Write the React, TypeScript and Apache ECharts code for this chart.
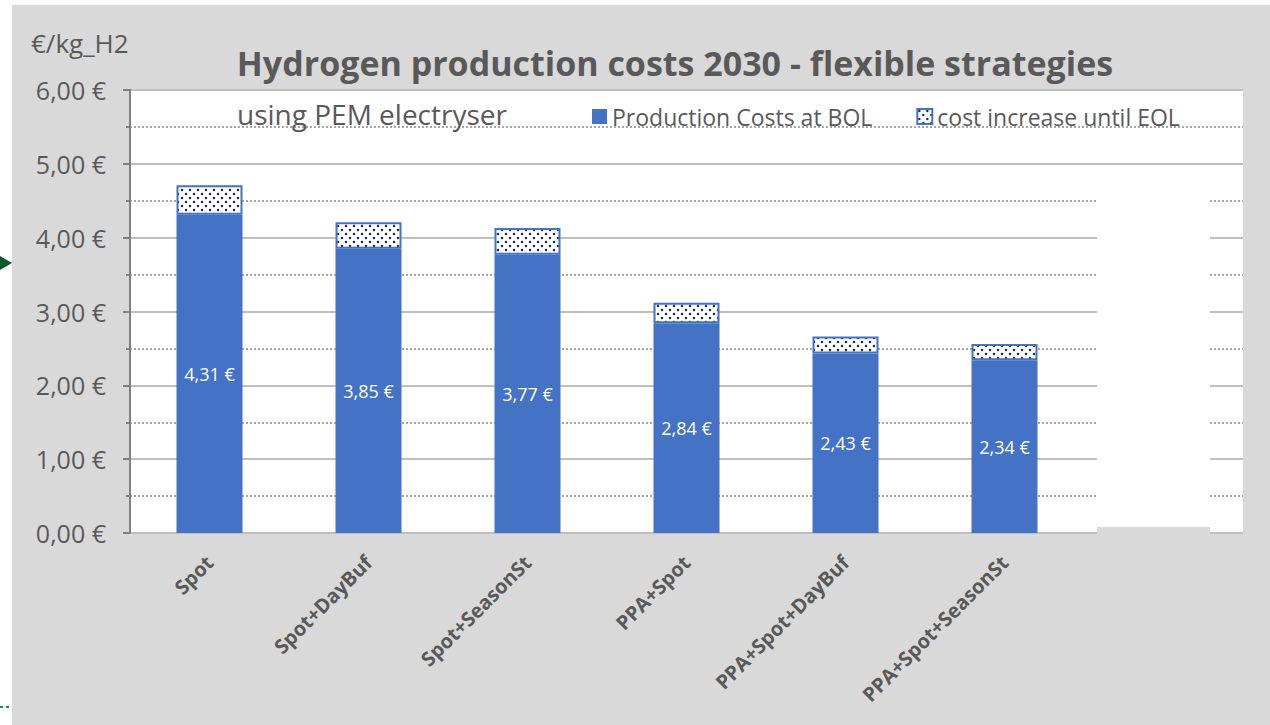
import React, { useEffect, useRef } from "react";
import * as echarts from "echarts";

const categories = ["Spot", "Spot+DayBuf", "Spot+SeasonSt", "PPA+Spot", "PPA+Spot+DayBuf", "PPA+Spot+SeasonSt", ""];
const bolCosts = [4.31, 3.85, 3.77, 2.84, 2.43, 2.34, null];
const eolIncrease = [0.4, 0.36, 0.36, 0.28, 0.23, 0.22, null];
const seriesNames = ["Production Costs at BOL", "cost increase until EOL"];
const titleText = "Hydrogen production costs 2030 - flexible strategies";
const subtitleText = "using PEM electryser";
const unitText = "€/kg_H2";

const FONT = "'Open Sans', 'Noto Sans', sans-serif";
const BLUE = "#4472c4";
const GREY_TEXT = "#595959";

function makeDots(): HTMLCanvasElement {
  const c = document.createElement("canvas");
  c.width = 8;
  c.height = 8;
  const ctx = c.getContext("2d")!;
  ctx.fillStyle = "#ffffff";
  ctx.fillRect(0, 0, 8, 8);
  ctx.fillStyle = "#1c2a4a";
  ctx.beginPath();
  ctx.arc(2, 2, 1.25, 0, Math.PI * 2);
  ctx.arc(6, 6, 1.25, 0, Math.PI * 2);
  ctx.fill();
  return c;
}

export default function App() {
  const ref = useRef<HTMLDivElement>(null);
  useEffect(() => {
    document.body.style.margin = "0";
    const chart = echarts.init(ref.current!, null, { renderer: "svg" });
    const dots = makeDots();
    const fmt = (v: number) => v.toFixed(2).replace(".", ",") + " €";
    chart.setOption({
      animation: false,
      backgroundColor: "#ffffff",
      title: {
        text: titleText,
        left: 670,
        textAlign: "center",
        top: 41,
        textStyle: { fontFamily: FONT, fontSize: 34, fontWeight: "bold", color: GREY_TEXT },
      },
      legend: {
        left: 592,
        top: 105,
        padding: 0,
        itemWidth: 15,
        itemHeight: 15,
        itemGap: 44,
        icon: "rect",
        textStyle: { fontFamily: FONT, fontSize: 23, color: GREY_TEXT },
        data: seriesNames,
      },
      grid: {
        left: 130,
        top: 90,
        width: 1113,
        height: 443,
        show: true,
        backgroundColor: "#ffffff",
        borderWidth: 0,
        containLabel: false,
      },
      xAxis: {
        type: "category",
        data: categories,
        axisLine: { show: false },
        axisTick: { show: false },
        axisLabel: {
          rotate: 45,
          margin: 26,
          interval: 0,
          fontFamily: FONT,
          fontSize: 20,
          fontWeight: "bold",
          color: GREY_TEXT,
        },
      },
      yAxis: {
        type: "value",
        min: 0,
        max: 6,
        interval: 1,
        axisLine: { show: true, lineStyle: { color: "#7f7f7f", width: 2 } },
        axisTick: { show: true, length: 7, lineStyle: { color: "#7f7f7f", width: 2 } },
        minorTick: { show: true, splitNumber: 2, length: 4, lineStyle: { color: "#7f7f7f", width: 2 } },
        splitLine: { show: true, lineStyle: { color: "#bfbfbf", width: 2 } },
        minorSplitLine: { show: true, lineStyle: { color: "#a6a6a6", width: 2, type: [2, 2] } },
        axisLabel: {
          formatter: fmt,
          margin: 24,
          fontFamily: FONT,
          fontSize: 25,
          color: GREY_TEXT,
        },
      },
      graphic: [
        { type: "rect", z: -100, shape: { x: 12, y: 5, width: 1258, height: 720 }, style: { fill: "#d9d9d9" } },
        { type: "rect", z: 5, shape: { x: 1097, y: 175, width: 113, height: 352 }, style: { fill: "#ffffff" } },
        { type: "rect", z: 5, shape: { x: 1097, y: 527, width: 113, height: 7 }, style: { fill: "#d9d9d9" } },
        { type: "polygon", z: 5, shape: { points: [[0, 256], [12, 263], [0, 270]] }, style: { fill: "#0d5a30" } },
        { type: "line", z: 5, shape: { x1: 0, y1: 707, x2: 12, y2: 707 }, style: { stroke: "#00a050", lineWidth: 2, lineDash: [3, 3] } },
        {
          type: "text",
          z: 5,
          x: 31,
          y: 30,
          style: { text: unitText, fontFamily: FONT, fontSize: 26, fill: GREY_TEXT },
        },
        {
          type: "text",
          z: 5,
          x: 237,
          y: 100,
          style: { text: subtitleText, fontFamily: FONT, fontSize: 28, fill: GREY_TEXT },
        },
      ],
      series: [
        {
          name: seriesNames[0],
          type: "bar",
          stack: "cost",
          barWidth: 66,
          data: bolCosts,
          itemStyle: { color: BLUE },
          label: {
            show: true,
            position: "inside",
            formatter: (p: any) => fmt(p.value),
            fontFamily: FONT,
            fontSize: 18,
            color: "#ffffff",
          },
        },
        {
          name: seriesNames[1],
          type: "bar",
          stack: "cost",
          barWidth: 66,
          data: eolIncrease,
          itemStyle: { color: { image: dots, repeat: "repeat" }, borderColor: BLUE, borderWidth: 2 },
        },
      ],
    });
    return () => chart.dispose();
  }, []);
  return <div ref={ref} style={{ width: 1270, height: 725 }} />;
}
